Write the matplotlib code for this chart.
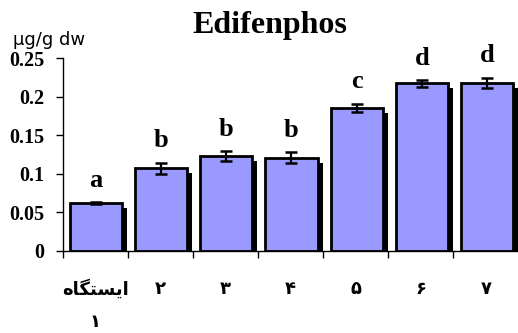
import matplotlib
matplotlib.use("Agg")
import matplotlib.pyplot as plt
import matplotlib.patheffects as pe
import numpy as np

# Edifenphos concentration per sampling station
stations = ["\ufee9\ufe8e\ufb95\ufe98\ufeb4\ufbfe\ufe8d\n\u06f1",  # ایستگاه ۱ (shaped glyphs)
            "\u06f2", "\u06f3", "\u06f4", "\u06f5", "\u06f6", "\u06f7"]
means = [0.062, 0.107, 0.123, 0.121, 0.185, 0.217, 0.218]
errors = [0.001, 0.0075, 0.0065, 0.007, 0.0055, 0.004, 0.0065]
letters = ["a", "b", "b", "b", "c", "d", "d"]
yticks = [0, 0.05, 0.1, 0.15, 0.2, 0.25]
ytick_labels = ["0", "0.05", "0.1", "0.15", "0.2", "0.25"]

fig = plt.figure(figsize=(5.18, 3.33), dpi=100)
ax = fig.add_axes([62.5 / 518, 82 / 333, 456 / 518, 193 / 333])

x = np.arange(len(means)) + 0.515
shadow = [pe.SimplePatchShadow(offset=(3.6, -3.6), shadow_rgbFace="black", alpha=1.0),
          pe.Normal()]
bars = ax.bar(x, means, width=0.8, color="#9999FF", edgecolor="black",
              linewidth=2.0, zorder=2)
for b in bars:
    b.set_path_effects(shadow)
ax.errorbar(x, means, yerr=errors, fmt="none", ecolor="black",
            elinewidth=1.6, capsize=4.5, capthick=1.8, zorder=3)

for xi, m, e, t in zip(x, means, errors, letters):
    ax.text(xi, m + e + 0.02, t, ha="center", va="baseline",
            fontsize=19, fontweight="bold", family="Liberation Serif")

ax.set_xlim(0, len(means))
ax.set_ylim(0, 0.25)
ax.set_yticks(yticks)
ax.set_yticklabels(ytick_labels, fontsize=14.5, fontweight="bold",
                   family="Liberation Serif")
ax.set_xticks(np.arange(len(means) + 1))
ax.set_xticklabels([])
ax.tick_params(axis="x", length=5, width=1, direction="out")
ax.tick_params(axis="y", length=5, width=1, direction="out", pad=8)

# station names under each category; wrapped names go on a second line
for i, name in enumerate(stations):
    for k, line in enumerate(name.split("\n")):
        ax.annotate(line, xy=(i + 0.5, 0), xycoords=("data", "axes fraction"),
                    xytext=(0, -27 - 24 * k), textcoords="offset points",
                    ha="center", va="center", fontsize=13, fontweight="bold",
                    family="DejaVu Sans", annotation_clip=False)

for s in ["top", "right"]:
    ax.spines[s].set_visible(False)
ax.spines["left"].set_linewidth(1)
ax.spines["bottom"].set_linewidth(1)

fig.text(270 / 518, 1 - 33 / 333, "Edifenphos", ha="center", va="baseline",
         fontsize=23, fontweight="bold", family="Liberation Serif")
fig.text(13 / 518, 1 - 45 / 333, "\u00b5g/g dw", ha="left", va="baseline",
         fontsize=13, family="DejaVu Sans")

fig.savefig("out.png", dpi=100)
